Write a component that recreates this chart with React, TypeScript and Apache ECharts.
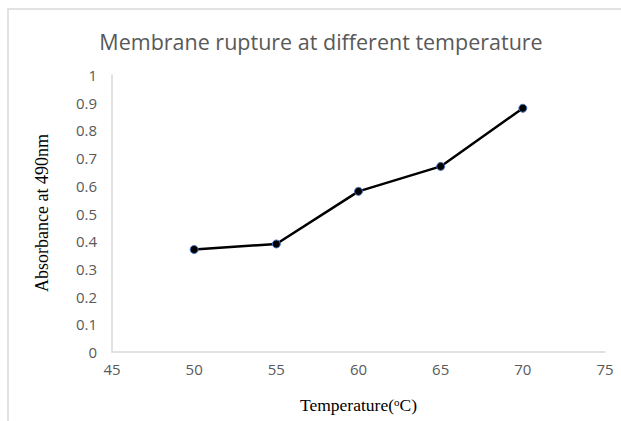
import React, { useEffect, useRef } from "react";
import * as echarts from "echarts";

const temperatures = [50, 55, 60, 65, 70];
const absorbance = [0.37, 0.39, 0.58, 0.67, 0.88];
const titleText = "Membrane rupture at different temperature";
const yName = "Absorbance at 490nm";

export default function App() {
  const ref = useRef<HTMLDivElement>(null);
  useEffect(() => {
    if (!ref.current) return;
    const chart = echarts.init(ref.current, null, { renderer: "svg" });
    chart.setOption({
      animation: false,
      backgroundColor: "#ffffff",
      title: {
        text: titleText,
        left: 316,
        textAlign: "center",
        top: 25,
        textStyle: {
          fontFamily: "Open Sans",
          fontSize: 21.5,
          fontWeight: "normal",
          color: "#595959",
        },
      },
      graphic: [
        {
          type: "rect",
          shape: { x: 8, y: 9, width: 640, height: 440 },
          style: { fill: "none", stroke: "#d9d9d9", lineWidth: 1.5 },
          silent: true,
        },
        {
          type: "text",
          x: 42,
          y: 213,
          rotation: Math.PI / 2,
          style: {
            text: yName,
            fontFamily: "Liberation Serif",
            fontSize: 18,
            fill: "#000000",
            align: "center",
            verticalAlign: "middle",
          },
        },
      ],
      grid: { left: 112, right: 16, top: 75, bottom: 69, containLabel: false },
      xAxis: {
        type: "value",
        min: 45,
        max: 75,
        interval: 5,
        name: "{t|Temperature(}{s|o}{t|C)}",
        nameLocation: "middle",
        nameGap: 44,
        nameTextStyle: {
          rich: {
            t: { fontFamily: "Liberation Serif", fontSize: 17.5, color: "#000" },
            s: { fontFamily: "Liberation Serif", fontSize: 11, color: "#000", verticalAlign: "top", padding: [0, 0, 7, 0] },
          },
        },
        axisLine: { show: true, lineStyle: { color: "#d9d9d9", width: 1.5 } },
        axisTick: { show: false },
        splitLine: { show: false },
        axisLabel: { margin: 9, fontFamily: "Open Sans", fontSize: 15, color: "#595959" },
      },
      yAxis: {
        type: "value",
        min: 0,
        max: 1,
        interval: 0.1,
        axisLine: { show: true, lineStyle: { color: "#d9d9d9", width: 1.5 } },
        axisTick: { show: false },
        splitLine: { show: false },
        axisLabel: { margin: 15, fontFamily: "Open Sans", fontSize: 15, color: "#595959" },
      },
      series: [
        {
          type: "line",
          data: temperatures.map((t, i) => [t, absorbance[i]]),
          symbol: "circle",
          symbolSize: 8,
          lineStyle: { color: "#000000", width: 2.5 },
          itemStyle: { color: "#000000", borderColor: "#4472c4", borderWidth: 1 },
        },
      ],
    });
    return () => chart.dispose();
  }, []);
  return (
    <div
      ref={ref}
      style={{ position: "fixed", left: 0, top: 0, width: 621, height: 421 }}
    />
  );
}
